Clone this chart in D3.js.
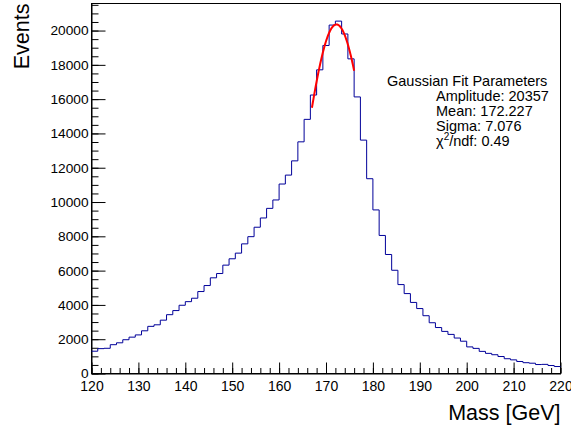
<!DOCTYPE html>
<html>
<head>
<meta charset="utf-8">
<style>
  body { margin: 0; background: #fff; }
  svg { display: block; font-family: "Liberation Sans", Arial, Helvetica, sans-serif; }
</style>
</head>
<body>
<div id="massPlot"></div>
<script src="https://cdn.jsdelivr.net/npm/d3@7"></script>
<script>
// histogram: 75 bins from 120 to 220 GeV
const massRange = [120, 220];
const counts = [
  1300, 1450, 1470, 1680, 1790, 1970, 2120, 2250, 2490, 2750,
  2840, 3110, 3430, 3670, 3980, 4190, 4390, 4780, 5130, 5580,
  5830, 6320, 6690, 7020, 7560, 7980, 8530, 9070, 9630, 10120,
  11050, 11570, 12400, 13510, 14820, 16240, 17710, 19130, 20320, 20550,
  19800, 18350, 16130, 13610, 11360, 9540, 8050, 6940, 6020, 5185,
  4660, 4145, 3787, 3370, 2960, 2680, 2455, 2280, 2068, 1883,
  1551, 1465, 1290, 1174, 1095, 990, 862, 795, 700, 630,
  600, 523, 533, 465, 407
];

const xTicks = [120, 130, 140, 150, 160, 170, 180, 190, 200, 210, 220];
const yTicks = [0, 2000, 4000, 6000, 8000, 10000, 12000, 14000, 16000, 18000, 20000];

// gaussian fit result
const fitAmplitude = 20357;
const fitMean = 172.227;
const fitSigma = 7.076;
const fitChi2 = 0.49;
const fitRange = [167, 176];
const fitTitle = "Gaussian Fit Parameters";
const fitLines = [
  `Amplitude: ${fitAmplitude}`,
  `Mean: ${fitMean}`,
  `Sigma: ${fitSigma}`
];

const svgWidth = 571;
const svgHeight = 428;
const frame = { left: 91.5, right: 560.5, top: 3.5, bottom: 373.5 };

const svg = d3
  .select("#massPlot")
  .append("svg")
  .attr("width", svgWidth)
  .attr("height", svgHeight);

const nBins = counts.length;
const binWidth = (massRange[1] - massRange[0]) / nBins;

const x = d3.scaleLinear().domain(massRange).range([frame.left, frame.right]);
const y = d3
  .scaleLinear()
  .domain([0, d3.max(counts) * 1.05])
  .range([frame.bottom, frame.top]);

// frame
svg.append("rect")
  .attr("x", frame.left)
  .attr("y", frame.top)
  .attr("width", frame.right - frame.left)
  .attr("height", frame.bottom - frame.top)
  .attr("fill", "none")
  .attr("stroke", "#000")
  .attr("stroke-width", 1);

// minor ticks
const xMinor = d3.range(massRange[0], massRange[1] + 0.001, 2);
const yMinor = d3.range(0, y.domain()[1], 500);

svg.append("g")
  .attr("transform", `translate(0,${frame.bottom})`)
  .call(d3.axisBottom(x).tickValues(xMinor).tickSize(-5.5).tickSizeOuter(0).tickFormat(""))
  .call((g) => g.select(".domain").remove());

svg.append("g")
  .attr("transform", `translate(${frame.left},0)`)
  .call(d3.axisLeft(y).tickValues(yMinor).tickSize(-7).tickSizeOuter(0).tickFormat(""))
  .call((g) => g.select(".domain").remove());

// major ticks + labels
const xAxis = svg.append("g")
  .attr("transform", `translate(0,${frame.bottom})`)
  .call(d3.axisBottom(x).tickValues(xTicks).tickSize(-11).tickSizeOuter(0).tickFormat(d3.format("d")));

xAxis.selectAll("text")
  .attr("y", 8)
  .attr("dy", "0.71em")
  .attr("font-size", 14)
  .attr("font-family", null)
  .attr("fill", "#000");

const yAxis = svg.append("g")
  .attr("transform", `translate(${frame.left},0)`)
  .call(d3.axisLeft(y).tickValues(yTicks).tickSize(-14).tickSizeOuter(0).tickFormat(d3.format("d")));

yAxis.selectAll("text")
  .attr("x", -3)
  .attr("font-size", 13.7)
  .attr("font-family", null)
  .attr("fill", "#000");

svg.selectAll(".domain, .tick line").attr("stroke", "#000");

// histogram outline
const steps = counts.map((c, i) => [massRange[0] + i * binWidth, c]);
steps.push([massRange[1], counts[nBins - 1]]);

svg.append("path")
  .datum(steps)
  .attr("fill", "none")
  .attr("stroke", "#000099")
  .attr("stroke-width", 1)
  .attr("d", d3.line().x((d) => x(d[0])).y((d) => y(d[1])).curve(d3.curveStepAfter));

// fitted gaussian
const gauss = (m) => fitAmplitude * Math.exp(-((m - fitMean) ** 2) / (2 * fitSigma * fitSigma));
const fitPoints = d3.range(fitRange[0], fitRange[1] + 0.001, 0.1).map((m) => [m, gauss(m)]);

svg.append("path")
  .datum(fitPoints)
  .attr("fill", "none")
  .attr("stroke", "#ff0000")
  .attr("stroke-width", 2)
  .attr("d", d3.line().x((d) => x(d[0])).y((d) => y(d[1])));

// fit parameter text
const info = svg.append("g").attr("font-size", 14.5).attr("fill", "#000");

info.append("text").attr("x", 387).attr("y", 86).text(fitTitle);

info.selectAll(".fitline")
  .data(fitLines)
  .enter()
  .append("text")
  .attr("class", "fitline")
  .attr("x", 436)
  .attr("y", (d, i) => 101 + i * 15)
  .text((d) => d);

const chi = info.append("text").attr("x", 436).attr("y", 146);
chi.append("tspan").text("χ");
chi.append("tspan").attr("font-size", 10).attr("dy", -6).text("2");
chi.append("tspan").attr("dy", 6).text(`/ndf: ${fitChi2}`);

// axis titles
svg.append("text")
  .attr("x", frame.right)
  .attr("y", 420)
  .attr("text-anchor", "end")
  .attr("font-size", 21.5)
  .text("Mass [GeV]");

svg.append("text")
  .attr("transform", `translate(29,${frame.top}) rotate(-90)`)
  .attr("text-anchor", "end")
  .attr("font-size", 21.5)
  .text("Events");
</script>
</body>
</html>
